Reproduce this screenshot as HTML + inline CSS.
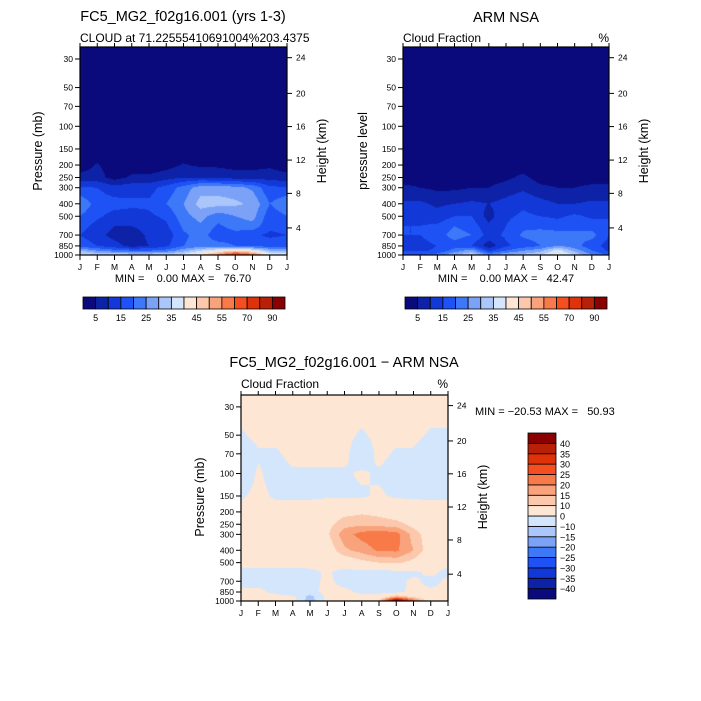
<!DOCTYPE html>
<html><head><meta charset="utf-8"><style>
html,body{margin:0;padding:0;background:#fff;}
#root{position:relative;width:701px;height:701px;overflow:hidden;font-family:"Liberation Sans",sans-serif;}
canvas{position:absolute;left:0;top:0;}
svg{position:absolute;left:0;top:0;}
text{font-family:"Liberation Sans",sans-serif;fill:#000;white-space:pre;}
</style></head><body>
<div id="root">
<canvas id="cv" width="701" height="701"></canvas>
<svg id="sv" width="701" height="701"></svg>
</div>
<script>
const months = ["J","F","M","A","M","J","J","A","S","O","N","D","J"];
const levels = [30,50,70,100,150,200,250,300,400,500,600,700,850,925,1000];
const pTicks = [30,50,70,100,150,200,250,300,400,500,700,850,1000];
const hTicks = [24,20,16,12,8,4];
const hTickP = [29.3,55.5,100.5,183,332,616];
const absBounds = [5,10,15,20,25,30,35,40,45,50,55,60,70,80,90];
const absLabels = ["5","15","25","35","45","55","70","90"];
const diffBounds = [-40,-35,-30,-25,-20,-15,-10,0,10,15,20,25,30,35,40];
const diffLabels = ["-40","-35","-30","-25","-20","-15","-10","0","10","15","20","25","30","35","40"];
const colors = ["#0a0a7c","#0d22a6","#1238d8","#1f52f4","#3c78f8","#7ca2f8","#aac6fa","#d4e6fc","#fde6d4","#fcc8ac","#f9a37c","#f87a48","#f64e1e","#e03208","#b82008","#8a0000"];
const modelVals = [
[1,1,1,1,1,1,1,1,1,1,1,1,1],
[1,1,1,1,1,1,1,1,1,1,1,1,1],
[1,1,1,1,1,1,1,1,1,1,1,1,1],
[1,1,1,1,1,1,1,1,1,1,1,1,1],
[1,1,1,1,1,1,1,1,1,1,1,1,1],
[2,5.5,2,2,2,3,5.5,4,4,3,3,4,2],
[7,7,3,6,6,8,10,10,9,8,8,8,7],
[16,15,12,13,13,17,22,28,28,27,24,16,16],
[24,18,17,16,16,20,25,32,32,31,29,20,24],
[20,16,13,13,14,16,23,27,22,25,27,17,20],
[17,13,10,10,12,14,21,24,19,22,23,16,17],
[15,12,8,7,11,12,19,22,17,18,16,14,15],
[18,15,12,8,10,14,20,22,22,20,18,18,18],
[30,25,22,20,20,22,28,35,40,45,40,30,30],
[38,35,35,35,35,35,38,45,55,72,60,40,38]];
const armVals = [
[1,1,1,1,1,1,1,1,1,1,1,1,1],
[1,1,1,1,1,1,1,1,1,1,1,1,1],
[1,1,1,1,1,1,1,1,1,1,1,1,1],
[1,1,1,1,1,1,1,1,1,1,1,1,1],
[1,1,1,1,1,1,1,1,1,1,1,1,1],
[2,2,2,2,2,2,2,3,2,2,2,2,2],
[3,3,3,3,3,3,4,6,3,3,3,3,3],
[6,5,4,4,5,5,7,9,6,5,5,6,6],
[11,11,9,10,11,10,12,14,12,10,10,11,11],
[15,14,12,15,15,8,14,16,15,14,16,14,15],
[15,15,16,20,18,11,15,19,19,18,19,18,15],
[15,15,18,22,20,13,16,21,22,22,21,22,15],
[13,13,15,18,15,7,14,17,20,25,22,17,13],
[14,14,16,22,28,14,20,25,28,38,28,20,14],
[20,20,22,30,35,25,30,32,35,42,35,25,20]];
const diffVals = [
[3,3,3,3,3,3,3,3,3,3,3,3,3],
[-1,2,2,2,2,2,2,-1,2,2,2,-1,-1],
[-5,-1,-1,2,2,2,2,-5,2,-1,-1,-5,-5],
[-5,1,-3,-1,-1,-1,-1,1,-1,-3,-5,-5,-5],
[-1,2,-1,-1,-1,-1,-1,-1,1,-1,-1,-1,-1],
[3,3,3,3,3,6,8,9,8,6,4,3,3],
[3,3,3,3,3,8,13,14,13,12,8,4,3],
[8,4,3,3,3,9,18,22,24,22,13,6,8],
[9,4,3,3,3,6,14,17,21,21,15,6,9],
[3,3,3,3,3,3,5,8,10,11,8,3,3],
[-3,-3,-3,-3,-2,1,-3,-3,-3,-3,-2,2,-3],
[-3,-3,-3,-3,-3,2,-3,-3,-3,-3,2,-3,2],
[2,2,-2,-10,-2,2,2,-2,-2,-2,2,2,2],
[3,3,3,3,-14,3,3,3,3,15,8,3,3],
[8,5,3,3,-15,3,3,5,10,50,25,5,8]];

const PTOP=24.2, PBOT=1000;
const panels=[
 {id:"model",x0:80,x1:287,y0:47,y1:255,vals:modelVals,bounds:absBounds},
 {id:"arm",x0:403,x1:609,y0:47,y1:255,vals:armVals,bounds:absBounds},
 {id:"diff",x0:241,x1:448,y0:395,y1:601,vals:diffVals,bounds:diffBounds}];
function yOf(P,p){return P.y0+(Math.log(p/PTOP)/Math.log(PBOT/PTOP))*(P.y1-P.y0);}
function xOf(P,m){return P.x0+m/12*(P.x1-P.x0);}
function binOf(v,b){let i=0;while(i<b.length&&v>=b[i])i++;return i;}

const ctx=document.getElementById('cv').getContext('2d');
panels.forEach(P=>{
  const w=P.x1-P.x0,h=P.y1-P.y0;
  const img=ctx.createImageData(w,h);
  const rgb=colors.map(c=>[parseInt(c.slice(1,3),16),parseInt(c.slice(3,5),16),parseInt(c.slice(5,7),16)]);
  const lv=levels.map(l=>Math.log(l));
  for(let j=0;j<h;j++){
    const lp=Math.log(PTOP)+(j+0.5)/h*(Math.log(PBOT)-Math.log(PTOP));
    let k=0;while(k<lv.length-2&&lp>lv[k+1])k++;
    let t=(lp-lv[k])/(lv[k+1]-lv[k]);t=Math.max(0,Math.min(1,t));
    for(let i=0;i<w;i++){
      const m=(i+0.5)/w*12;let a=Math.min(11,Math.floor(m));const s=m-a;
      const v=(1-t)*((1-s)*P.vals[k][a]+s*P.vals[k][a+1])+t*((1-s)*P.vals[k+1][a]+s*P.vals[k+1][a+1]);
      const c=rgb[binOf(v,P.bounds)];const o=(j*w+i)*4;
      img.data[o]=c[0];img.data[o+1]=c[1];img.data[o+2]=c[2];img.data[o+3]=255;
    }
  }
  ctx.putImageData(img,P.x0,P.y0);
});

const NS="http://www.w3.org/2000/svg";
const sv=document.getElementById('sv');
function el(tag,attrs,txt){const e=document.createElementNS(NS,tag);for(const k in attrs)e.setAttribute(k,attrs[k]);if(txt!==undefined)e.textContent=txt;sv.appendChild(e);return e;}
function line(x1,y1,x2,y2,n){const e=el('line',{x1,y1,x2,y2,stroke:'#000','stroke-width':1});

return e;}
function txt(x,y,s,size,anchor,n,extra){const e=el('text',Object.assign({x,y,'font-size':size,'text-anchor':anchor||'start'},extra||{}),s);

return e;}

panels.forEach(P=>{
  const r=el('rect',{x:P.x0,y:P.y0,width:P.x1-P.x0,height:P.y1-P.y0,fill:'none',stroke:'#000','stroke-width':1.2});
  
  
  pTicks.forEach(p=>{const y=yOf(P,p);line(P.x0-5,y,P.x0,y,'pressure-tick');txt(P.x0-7,y+3,String(p),8.5,'end','pressure-tick-label');});
  hTicks.forEach((hh,i)=>{const y=yOf(P,hTickP[i]);line(P.x1,y,P.x1+5,y,'height-tick');txt(P.x1+9,y+3,String(hh),8.5,'start','height-tick-label');});
  months.forEach((m,i)=>{const x=xOf(P,i);line(x,P.y1,x,P.y1+5,'month-tick');line(x,P.y0,x,P.y0-4,'month-top-tick');txt(x,P.y1+15,m,8.5,'middle','month-label');});
});
txt(183,21,"FC5_MG2_f02g16.001 (yrs 1-3)",14.5,'middle','model-title');
txt(80,42,"CLOUD at 71.22555410691004%203.4375",12,'start','model-subtitle');
txt(506,22,"ARM NSA",14.5,'middle','arm-title');
txt(403,42,"Cloud Fraction",12,'start','arm-subtitle');
txt(609,42,"%",12,'end','arm-units');
txt(344,367,"FC5_MG2_f02g16.001 \u2212 ARM NSA",14.5,'middle','diff-title');
txt(241,388,"Cloud Fraction",12,'start','diff-subtitle');
txt(448,388,"%",12,'end','diff-units');
txt(183,282,"MIN =    0.00 MAX =   76.70",11,'middle','model-minmax');
txt(506,282,"MIN =    0.00 MAX =   42.47",11,'middle','arm-minmax');
txt(475,415,"MIN = \u221220.53 MAX =   50.93",11,'start','diff-minmax');
function vtitle(x,y,s,n){txt(x,y,s,12.5,'middle',n,{transform:`rotate(-90 ${x} ${y})`});}
vtitle(42,151,"Pressure (mb)",'model-y-title');
vtitle(326,151,"Height (km)",'model-height-title');
vtitle(367,151,"pressure level",'arm-y-title');
vtitle(648,151,"Height (km)",'arm-height-title');
vtitle(204,497,"Pressure (mb)",'diff-y-title');
vtitle(487,497,"Height (km)",'diff-height-title');
[83,405].forEach((cx,ci)=>{
  const w=202/16;
  colors.forEach((c,i)=>{const r=el('rect',{x:cx+i*w,y:297,width:w,height:12,fill:c,stroke:'#000','stroke-width':0.8});
  
  });
  absLabels.forEach((l,i)=>txt(cx+(2*i+1)*w,321,l,9,'middle','colorbar-label'));
});
{const h=166/16;
 colors.forEach((c,i)=>{const r=el('rect',{x:528,y:599-(i+1)*h,width:28,height:h,fill:c,stroke:'#000','stroke-width':0.8});
 
 });
 diffLabels.forEach((l,i)=>txt(560,599-(i+1)*h+3.5,l.replace('-','\u2212'),9,'start','diff-colorbar-label'));
}
</script>
</body></html>
